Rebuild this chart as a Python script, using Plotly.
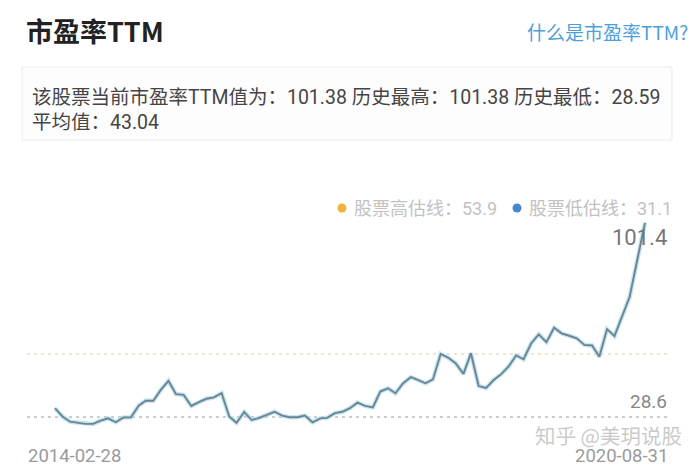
import pandas as pd
import plotly.graph_objects as go

# ---- data ----
start_date = "2014-02-28"
end_date = "2020-08-31"
pe_values = [
    34.3, 31.2, 29.4, 29.1, 28.6, 28.6, 29.8, 30.6, 29.2, 30.9,
    31.0, 35.2, 37.0, 37.0, 40.9, 44.2, 39.4, 39.1, 35.1, 36.5,
    37.7, 38.2, 39.7, 31.2, 29.0, 32.9, 30.0, 30.8, 31.8, 33.0,
    31.6, 31.0, 31.0, 31.6, 29.2, 30.6, 30.8, 32.5, 33.0, 34.3,
    36.3, 35.1, 34.6, 40.3, 41.5, 39.7, 43.3, 45.5, 44.5, 43.3,
    44.7, 53.9, 52.6, 50.5, 46.7, 54.2, 42.3, 41.6, 44.5, 46.7,
    49.3, 53.4, 52.0, 57.8, 61.0, 58.2, 63.4, 61.4, 60.5, 59.6,
    57.2, 57.0, 52.9, 62.9, 60.4, 67.5, 74.5, 88.0, 101.38,
]
high_line = 53.9
low_line = 31.1
current_pe = 101.38
hist_max = 101.38
hist_min = 28.59
mean_pe = 43.04
max_label = "101.4"
min_label = "28.6"

try:
    dates = pd.date_range(start_date, end_date, freq="ME")
except Exception:
    dates = pd.date_range(start_date, end_date, freq="M")

# ---- layout geometry (screen pixels; body margin removed by post_script) ----
W, H = 700, 470
PL, PR, PT, PB = 27, 670, 200, 440   # plot area box
X0PX, X1PX = 55, 645                 # pixel of first / last date
Y_LOW_PX = 417
PX_PER_UNIT = 2.763

d0, d1 = pd.Timestamp(start_date), pd.Timestamp(end_date)
span = d1 - d0
xr = [d0 - span * ((X0PX - PL) / (X1PX - X0PX)), d1 + span * ((PR - X1PX) / (X1PX - X0PX))]
yr = [low_line - (PB - Y_LOW_PX) / PX_PER_UNIT, low_line + (Y_LOW_PX - PT) / PX_PER_UNIT]


def px(x, y):
    return (x - PL) / (PR - PL), (PB - y) / (PB - PT)


FONT = "Roboto, 'Noto Sans CJK SC', sans-serif"
CJK = "'Noto Sans CJK SC', Roboto, sans-serif"

fig = go.Figure()
fig.add_trace(go.Scatter(x=dates, y=pe_values, mode="lines",
                         line=dict(color="rgba(175,218,235,0.7)", width=4.5),
                         hoverinfo="skip", showlegend=False))
fig.add_trace(go.Scatter(x=dates, y=pe_values, mode="lines",
                         line=dict(color="#6a8593", width=1.9),
                         hoverinfo="skip", showlegend=False))

shapes = []
shapes.append(dict(type="line", xref="paper", yref="y", x0=0, x1=1, y0=high_line, y1=high_line,
                   line=dict(color="#e9dfb9", width=1.6, dash="3px,4px"), layer="below"))
shapes.append(dict(type="line", xref="paper", yref="y", x0=0, x1=1, y0=low_line, y1=low_line,
                   line=dict(color="#b3c0c7", width=1.6, dash="3px,4px"), layer="below"))
bx0, by0 = px(22, 140)
bx1, by1 = px(672, 67)
shapes.append(dict(type="rect", xref="paper", yref="paper", x0=bx0, y0=by0, x1=bx1, y1=by1,
                   line=dict(color="#ececec", width=1), fillcolor="#fdfdfd", layer="below"))
for cx, col in [(342, "#f0b43c"), (517, "#4a86d0")]:
    a0, b0 = px(cx - 4.5, 208 + 4.5)
    a1, b1 = px(cx + 4.5, 208 - 4.5)
    shapes.append(dict(type="circle", xref="paper", yref="paper", x0=a0, y0=b0, x1=a1, y1=b1,
                       line=dict(width=0), fillcolor=col))

annotations = []


def txt(text, x, y, size, color, xanchor="left", family=FONT, bold=False):
    ax, ay = px(x, y)
    if bold:
        text = "<b>" + text + "</b>"
    annotations.append(dict(text=text, x=ax, y=ay, xref="paper", yref="paper",
                            xanchor=xanchor, yanchor="middle", showarrow=False,
                            font=dict(size=size, color=color, family=family)))


txt("市盈率TTM", 24, 30, 27, "#222222", bold=True, family=CJK)
txt("什么是市盈率TTM?", 690, 31, 19, "#4ea0d9", xanchor="right", family=CJK)
txt(f"该股票当前市盈率TTM值为：{current_pe:.2f} 历史最高：{hist_max:.2f} 历史最低：{hist_min:.2f}",
    30, 97, 19.5, "#454545")
txt(f"平均值：{mean_pe:.2f}", 30, 122, 19.5, "#454545")
txt(f"股票高估线：{high_line}", 352, 208, 18, "#c2c2c2")
txt(f"股票低估线：{low_line}", 527, 208, 18, "#c2c2c2")
txt(max_label, 669, 237, 22, "#777777", xanchor="right")
txt(min_label, 669, 401, 19, "#888888", xanchor="right")
txt(start_date, 26, 456, 18.5, "#9a9a9a")
txt(end_date, 670, 456, 18.5, "#9a9a9a", xanchor="right")
txt("知乎 @美玥说股", 684, 435, 20.5, "rgba(185,185,185,0.75)", xanchor="right", family=CJK)

fig.update_layout(
    width=W, height=H,
    margin=dict(l=PL, r=W - PR, t=PT, b=H - PB, pad=0),
    paper_bgcolor="white", plot_bgcolor="white",
    xaxis=dict(range=xr, showgrid=False, zeroline=False, showticklabels=False,
               showline=False, ticks="", fixedrange=True),
    yaxis=dict(range=yr, showgrid=False, zeroline=False, showticklabels=False,
               showline=False, ticks="", fixedrange=True),
    shapes=shapes, annotations=annotations, hovermode=False, showlegend=False,
)
fig.write_html("out.html", config={"displayModeBar": False},
               post_script="document.body.style.margin='0';document.body.style.overflow='hidden';")
